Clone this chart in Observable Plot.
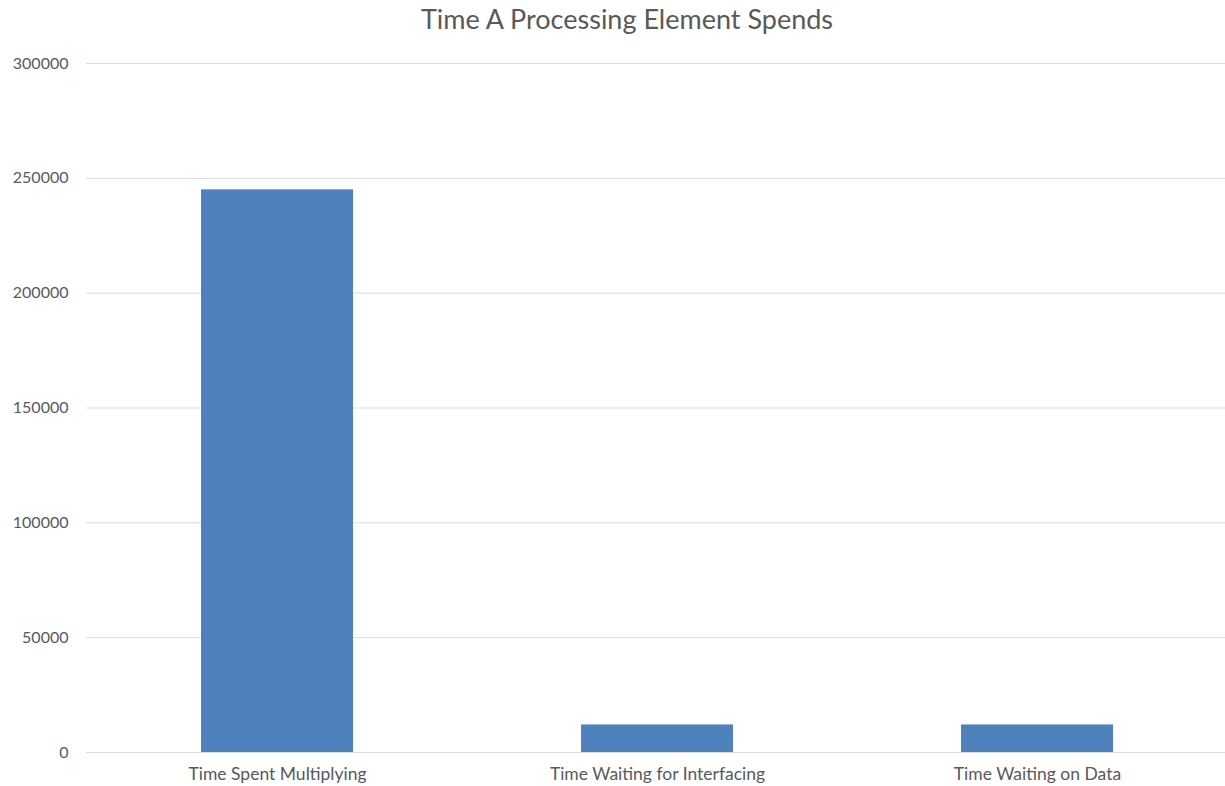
<!DOCTYPE html>
<html>
<head>
<meta charset="utf-8">
<script src="https://cdn.jsdelivr.net/npm/d3@7"></script>
<script src="https://cdn.jsdelivr.net/npm/@observablehq/plot@0.6"></script>
<style>
  html, body { margin: 0; padding: 0; background: #fff; }
  #title { height: 40px; width: 1225px; position: relative; font-family: Lato, "Open Sans", sans-serif; }
  #title span { position: absolute; left: 627px; top: 2px; transform: translateX(-50%); font-size: 27px; color: #595959; white-space: nowrap; }
</style>
</head>
<body>
<div id="title"><span>Time A Processing Element Spends</span></div>
<div id="chart"></div>
<script>
const categories = ["Time Spent Multiplying", "Time Waiting for Interfacing", "Time Waiting on Data"];
const values = [245000, 12000, 12000];
const yTicks = [0, 50000, 100000, 150000, 200000, 250000, 300000];

const data = categories.map((c, i) => ({category: c, value: values[i]}));

const chart = Plot.plot({
  width: 1225,
  height: 746,
  marginTop: 23,
  marginBottom: 34,
  marginLeft: 86,
  marginRight: -3,
  style: {fontFamily: "Lato, 'Open Sans', sans-serif", fontSize: "16px", color: "#595959", background: "#fff"},
  x: {domain: categories, paddingInner: 0.6, paddingOuter: 0.3, label: null, tickSize: 0, tickPadding: 15},
  y: {domain: [0, 300000], ticks: yTicks, label: null, tickSize: 0, tickPadding: 18, tickFormat: d => String(d)},
  marks: [
    Plot.gridY(yTicks, {stroke: "#d9d9d9", strokeOpacity: 1, strokeWidth: 1}),
    Plot.barY(data, {x: "category", y: "value", fill: "#4f81bd"}),
    Plot.ruleY([0], {stroke: "#d9d9d9", strokeWidth: 1})
  ]
});
chart.querySelectorAll("[aria-label='x-axis tick label'] text, g[aria-label='x-axis tick label']").forEach(el => el.setAttribute("font-size", "17.5px"));
document.getElementById("chart").appendChild(chart);
</script>
</body>
</html>
